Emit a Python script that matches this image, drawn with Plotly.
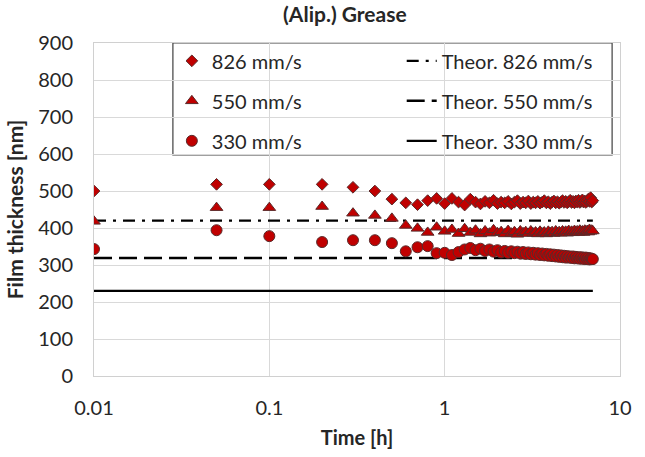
import plotly.graph_objects as go

time_h = [0.01, 0.05, 0.1, 0.2, 0.3, 0.4, 0.5, 0.6, 0.7, 0.8, 0.9,
          1.0, 1.1, 1.2, 1.3, 1.4, 1.5, 1.6, 1.7, 1.8, 1.9,
          2.0, 2.1, 2.2, 2.3, 2.4, 2.5, 2.6, 2.7, 2.8, 2.9,
          3.0, 3.1, 3.2, 3.3, 3.4, 3.5, 3.6, 3.7, 3.8, 3.9,
          4.0, 4.1, 4.2, 4.3, 4.4, 4.5, 4.6, 4.7, 4.8, 4.9,
          5.0, 5.1, 5.2, 5.3, 5.4, 5.5, 5.6, 5.7, 5.8, 5.9,
          6.0, 6.1, 6.2, 6.3, 6.4, 6.5, 6.6, 6.7, 6.8, 6.9, 7.0]

v826 = [500, 518, 518, 518, 510, 500, 478, 468, 463, 474, 480,
        466, 480, 470, 462, 478, 470, 465, 472, 468, 475,
        466, 470, 468, 472, 465, 470, 474, 466, 470, 468,
        473, 466, 470, 468, 472, 467, 470, 474, 468, 471,
        466, 470, 473, 468, 471, 467, 470, 474, 469, 472,
        468, 471, 475, 469, 472, 468, 473, 470, 475, 469,
        472, 476, 470, 473, 469, 474, 478, 472, 482, 470, 474]

v550 = [418, 455, 455, 458, 440, 434, 426, 407, 399, 388, 402,
        391, 396, 385, 398, 388, 394, 384, 392, 386, 395,
        387, 390, 384, 393, 386, 390, 383, 392, 387, 390,
        385, 392, 386, 389, 384, 391, 386, 389, 384, 391,
        387, 390, 385, 392, 387, 390, 386, 392, 388, 391,
        386, 393, 388, 391, 387, 393, 389, 392, 388, 394,
        389, 392, 388, 394, 390, 393, 389, 396, 391, 394, 392]

v330 = [343, 394, 378, 362, 367, 367, 359, 337, 348, 351, 332,
        333, 327, 335, 342, 346, 340, 344, 338, 342, 336,
        340, 334, 338, 333, 337, 332, 336, 331, 335, 330,
        334, 329, 333, 328, 332, 327, 331, 326, 330, 325,
        329, 324, 328, 323, 327, 322, 326, 321, 325, 320,
        324, 320, 323, 319, 323, 318, 322, 318, 321, 317,
        321, 317, 320, 316, 320, 316, 319, 315, 318, 316, 316]

theor_time = [0.01, 7.0]
theor826 = [420, 420]
theor550 = [319, 319]
theor330 = [230, 230]

x_tickvals = [0.01, 0.1, 1, 10]
x_ticktext = ["0.01", "0.1", "1", "10"]
y_tickvals = [0, 100, 200, 300, 400, 500, 600, 700, 800, 900]

FONT = "Lato, Liberation Sans, sans-serif"
RED = "#C00000"
EDGE = "#5a2a2a"

fig = go.Figure()

# theoretical lines (legend2)
fig.add_trace(go.Scatter(x=theor_time, y=theor826, mode="lines", name="Theor. 826 mm/s",
                         line=dict(color="black", width=2.2, dash="12px,7px,3px,7px"),
                         legend="legend2", legendgroup="t1"))
fig.add_trace(go.Scatter(x=theor_time, y=theor550, mode="lines", name="Theor. 550 mm/s",
                         line=dict(color="black", width=2.5, dash="18px,7px"),
                         legend="legend2", legendgroup="t2"))
fig.add_trace(go.Scatter(x=theor_time, y=theor330, mode="lines", name="Theor. 330 mm/s",
                         line=dict(color="black", width=2.2),
                         legend="legend2", legendgroup="t3"))

fig.add_trace(go.Scatter(x=time_h, y=v826, mode="markers", name="826 mm/s",
                         marker=dict(symbol="diamond", size=9, color=RED, line=dict(color=EDGE, width=1)),
                         legendgroup="m1"))
fig.add_trace(go.Scatter(x=time_h, y=v550, mode="markers", name="550 mm/s",
                         marker=dict(symbol="triangle-up", size=11, color=RED, line=dict(color=EDGE, width=1)),
                         legendgroup="m2"))
fig.add_trace(go.Scatter(x=time_h, y=v330, mode="markers", name="330 mm/s",
                         marker=dict(symbol="circle", size=11, color=RED, line=dict(color=EDGE, width=1)),
                         legendgroup="m3"))

fig.update_layout(
    width=645, height=457,
    margin=dict(l=94, r=25, t=43, b=78),
    paper_bgcolor="white", plot_bgcolor="white",
    font=dict(family=FONT, size=20, color="#262626"),
    title=dict(text="<b>(Alip.) Grease</b>", x=0.477, xref="paper", xanchor="center",
               y=0.985, yref="container", yanchor="top", font=dict(size=21, color="#262626")),
    xaxis=dict(type="log", range=[-2, 1], tickvals=x_tickvals, ticktext=x_ticktext,
               showgrid=True, gridcolor="#d9d9d9", gridwidth=1,
               showline=True, linecolor="#d0d0d0", linewidth=1, mirror=True,
               ticks="", ticklabelstandoff=14, zeroline=False,
               title=dict(text="<b>Time [h]</b>", font=dict(size=20), standoff=12)),
    yaxis=dict(range=[0, 900], tickvals=y_tickvals,
               showgrid=True, gridcolor="#d9d9d9", gridwidth=1,
               showline=True, linecolor="#d0d0d0", linewidth=1, mirror=True,
               ticks="", ticklabelstandoff=16, zeroline=False,
               title=dict(text="<b>Film thickness [nm]</b>", font=dict(size=21), standoff=8)),
    legend=dict(x=0.148, y=1.005, xanchor="left", yanchor="top", bgcolor="rgba(0,0,0,0)",
                borderwidth=0, traceorder="grouped", tracegroupgap=11,
                font=dict(size=20, color="#262626")),
    legend2=dict(x=0.585, y=1.005, xanchor="left", yanchor="top", bgcolor="rgba(0,0,0,0)",
                 borderwidth=0, traceorder="grouped", tracegroupgap=11,
                 font=dict(size=20, color="#262626")),
    shapes=[dict(type="rect", xref="paper", yref="paper", x0=0.150, x1=0.985, y0=0.664, y1=1.0,
                 line=dict(color="#404040", width=1.2), fillcolor="white", layer="below")],
)

fig.write_html("out.html")
